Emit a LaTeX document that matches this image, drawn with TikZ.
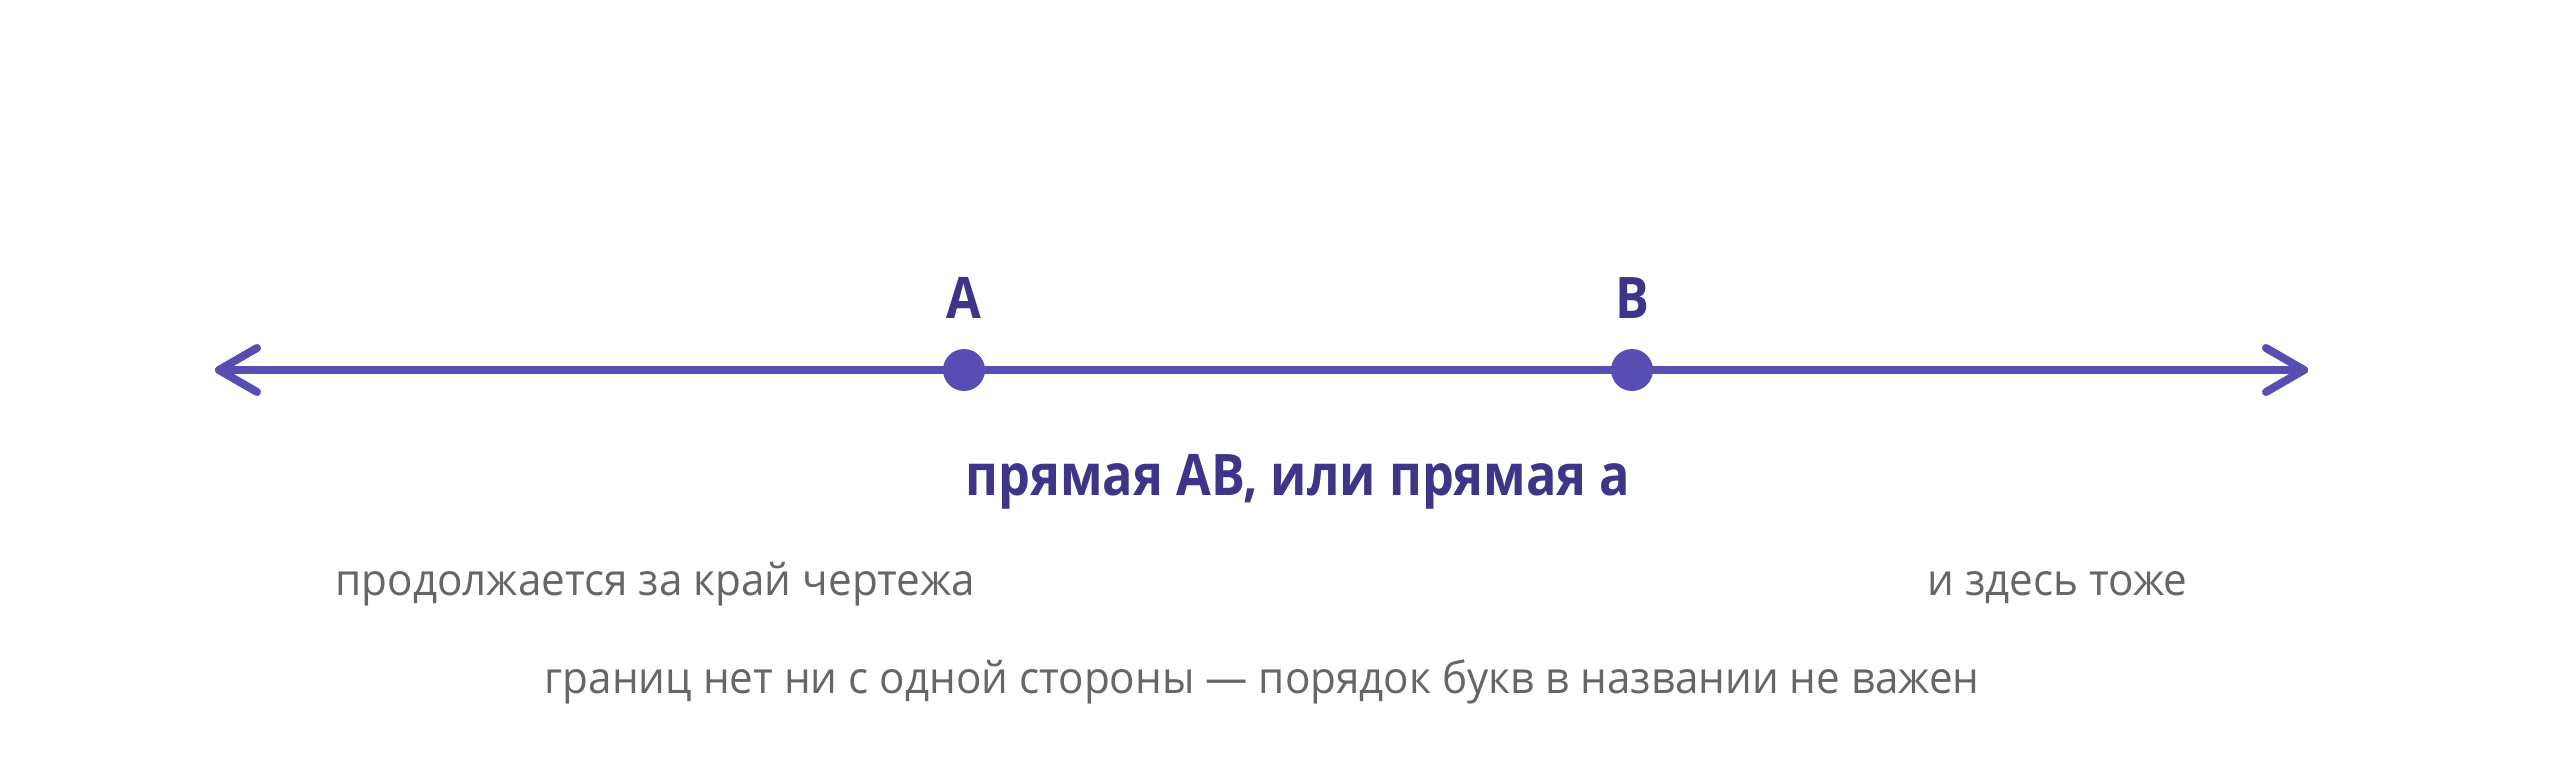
\documentclass[tikz,border=0pt]{standalone}
\usepackage{fontspec}
\setmainfont{Open Sans}
\newfontfamily\labfont[FakeStretch=0.88]{Open Sans}
\newfontfamily\notefont[FakeStretch=0.96]{Open Sans}
\usetikzlibrary{calc}
\definecolor{linecol}{HTML}{574DB3}
\definecolor{labcol}{HTML}{3E3488}
\definecolor{graycol}{HTML}{666666}
\tikzset{
  straight/.style={draw=linecol, line width=8*0.01cm, line cap=round},
  chev/.style={draw=linecol, line width=8*0.01cm, line cap=round, line join=round},
  ptdot/.style={circle, fill=linecol, minimum size=42*0.01cm, inner sep=0pt},
  ptlab/.style={text=labcol, font=\labfont\bfseries\fontsize{16.3}{19}\selectfont, inner sep=0pt, anchor=base},
  grey/.style={text=graycol, font=\notefont\fontsize{12.5}{15}\selectfont, inner sep=0pt},
}
\begin{document}
\begin{tikzpicture}[x=0.01cm, y=-0.01cm]
\useasboundingbox[fill=white] (0,0) rectangle (2560,779);
\coordinate (L) at (219,370);
\coordinate (R) at (2304,370);
\draw[straight] (L) -- (R);
\draw[chev] ($(L)+(38,-22)$) -- (L) -- ($(L)+(38,22)$);
\draw[chev] ($(R)+(-38,-22)$) -- (R) -- ($(R)+(-38,22)$);
\node[ptdot] (A) at (964,370) {};
\node[ptdot] (B) at (1632,370) {};
\node[ptlab] (la) at (964,318) {A};
\node[ptlab] (lb) at (1632,318) {B};
\node[ptlab] (name) at (1298,495) {прямая AB, или прямая a};
\node[grey, anchor=base west] (t1) at (335,595) {продолжается за край чертежа};
\node[grey, anchor=base east] (t2) at (2188,595) {и здесь тоже};
\node[grey, anchor=base] (t3) at (1262,693) {границ нет ни с одной стороны — порядок букв в названии не важен};
\end{tikzpicture}
\end{document}
